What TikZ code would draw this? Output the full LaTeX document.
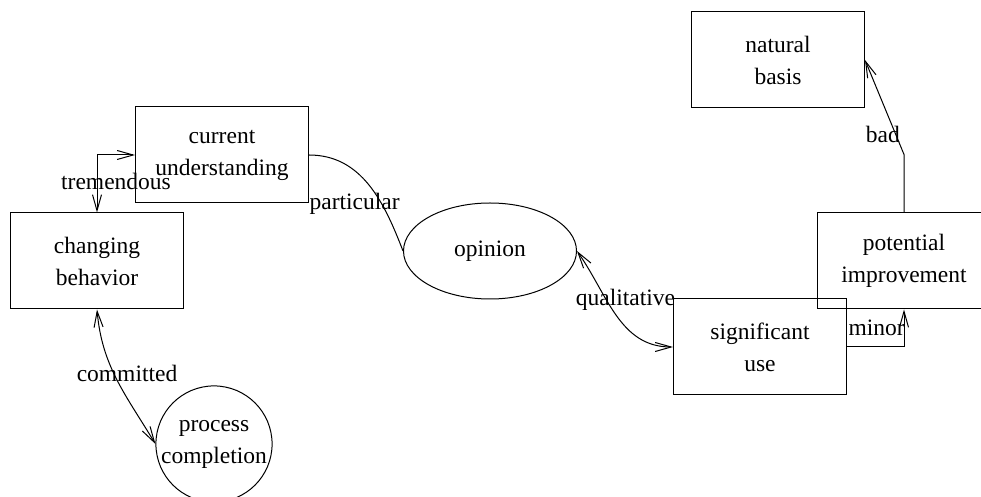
\documentclass[tikz,border=0pt]{standalone}
\usepackage{fontspec}
\setmainfont{Liberation Serif}
\usetikzlibrary{arrows.meta,shapes.geometric}
\newcommand{\labelsize}{\fontsize{23.5}{32}\selectfont}

\begin{document}
\begin{tikzpicture}[
  x=1pt, y=1pt,
  box/.style={draw, line width=1pt, minimum width=173pt, minimum height=96pt, inner sep=0pt, align=center, font=\labelsize},
  oval/.style={draw, ellipse, line width=1pt, minimum width=173pt, minimum height=96pt, inner sep=0pt, font=\labelsize},
  roundnode/.style={draw, circle, line width=1pt, minimum size=116pt, inner sep=0pt, align=center, font=\labelsize},
  link/.style={line width=1pt},
  arrow/.style={link, -{Straight Barb[length=16pt, width=9pt]}},
  biarrow/.style={link, {Straight Barb[length=16pt, width=9pt]}-{Straight Barb[length=16pt, width=9pt]}},
  edgetext/.style={font=\labelsize, inner sep=0pt}
]
\useasboundingbox (0,0) rectangle (981,497);

\node[box] (basis) at (778, 437) {natural\\basis};
\node[box] (under) at (222, 342) {current\\understanding};
\node[box] (behav) at (97, 236) {changing\\behavior};
\node[oval] (opinion) at (490, 246) {opinion};
\node[box] (use) at (760, 150) {significant\\use};
\node[box] (improv) at (904, 236) {potential\\improvement};
\node[roundnode] (proc) at (214, 53) {process\\completion};

\draw[biarrow] (behav.north) |- (under.west) node[edgetext, pos=0.27, xshift=19pt] {tremendous};
\draw[link] (under.east) to[out=0, in=111] node[edgetext, pos=0.5, xshift=-14pt, yshift=-19pt] {particular} (opinion.west);
\draw[biarrow] (opinion.east) to[out=-55, in=180] node[edgetext, pos=0.45, xshift=13pt, yshift=10pt] {qualitative} (use.west);
\draw[arrow] (use.east) -| (improv.south) node[edgetext, pos=0.26, yshift=19pt] {minor};
\draw[arrow] (improv.north) -- ++(0, 58) coordinate (bend) -- (basis.east) node[edgetext, pos=0.21, xshift=-13pt] {bad};
\draw[biarrow] (behav.south) to[out=-85, in=121] node[edgetext, pos=0.45, xshift=13pt] {committed} (proc.west);

\end{tikzpicture}
\end{document}
